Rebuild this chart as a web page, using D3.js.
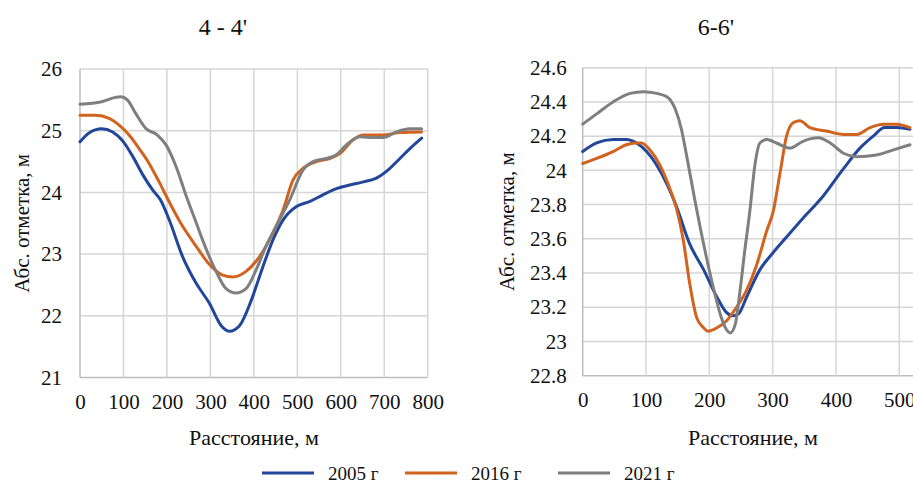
<!DOCTYPE html>
<html><head><meta charset="utf-8">
<script src="https://cdn.jsdelivr.net/npm/d3@7"></script>
<style>
html,body{margin:0;padding:0;background:#fff;}
svg{display:block;font-family:"Liberation Serif","Times New Roman",serif;}
</style></head>
<body>
<svg id="c" width="913" height="486"></svg>
<script>
// ---------- DATA ----------
const seriesNames = ["2005 г", "2016 г", "2021 г"];
const seriesColors = ["#22479a", "#d2631f", "#7f7f7f"];

// Profile 4 - 4'
const dist4_2005 = [0,20,50,75,100,120,145,167,185,205,236,267,298,325,344,367,394,421,444,467,498,528,559,590,621,652,682,705,736,759,786];
const elev4_2005 = [24.82,24.96,25.03,24.98,24.82,24.6,24.28,24.04,23.88,23.56,22.96,22.53,22.2,21.84,21.75,21.84,22.25,22.8,23.23,23.55,23.77,23.85,23.96,24.06,24.12,24.17,24.23,24.34,24.55,24.71,24.88];
const dist4_2016 = [0,36,67,90,113,136,159,182,205,232,267,298,328,352,382,413,444,467,490,513,544,575,598,628,652,698,736,786];
const elev4_2016 = [25.25,25.25,25.2,25.09,24.93,24.71,24.47,24.17,23.85,23.5,23.13,22.83,22.66,22.63,22.72,22.96,23.34,23.71,24.2,24.39,24.5,24.55,24.63,24.85,24.93,24.93,24.97,24.98];
const dist4_2021 = [0,50,82,94,109,128,151,178,198,221,244,271,282,313,336,359,382,405,428,455,482,513,536,567,590,613,644,675,698,728,759,786];
const elev4_2021 = [25.43,25.47,25.54,25.55,25.5,25.28,25.04,24.93,24.77,24.42,23.95,23.44,23.23,22.72,22.44,22.37,22.44,22.74,23.13,23.5,23.87,24.36,24.5,24.55,24.61,24.77,24.9,24.89,24.89,24.98,25.03,25.03];

// Profile 6-6'
const dist6_2005 = [0,22,48,69,85,101,117,133,148,169,191,212,227,238,246,259,280,301,322,348,380,412,438,459,477,496,517];
const elev6_2005 = [24.11,24.16,24.18,24.18,24.16,24.11,24.03,23.92,23.79,23.57,23.42,23.26,23.17,23.15,23.16,23.26,23.42,23.52,23.61,23.72,23.85,24.01,24.13,24.2,24.25,24.25,24.24];
const dist6_2016 = [0,22,48,69,83,93,106,122,138,148,159,169,180,191,198,212,227,243,259,275,291,301,312,322,333,343,359,385,412,433,454,475,496,517];
const elev6_2016 = [24.04,24.07,24.11,24.15,24.16,24.16,24.12,24.03,23.89,23.78,23.59,23.34,23.14,23.08,23.06,23.08,23.12,23.2,23.3,23.45,23.65,23.76,23.99,24.2,24.28,24.29,24.25,24.23,24.21,24.21,24.25,24.27,24.27,24.25];
const dist6_2021 = [0,22,48,75,96,117,133,146,156,164,177,191,206,219,227,233,241,248,256,264,272,280,291,306,327,348,372,391,412,433,464,491,517];
const elev6_2021 = [24.27,24.33,24.4,24.45,24.46,24.45,24.43,24.36,24.24,24.09,23.83,23.57,23.32,23.14,23.07,23.05,23.1,23.28,23.53,23.76,24.03,24.16,24.18,24.16,24.13,24.17,24.19,24.16,24.1,24.08,24.09,24.12,24.15];

const xTicks4 = [0,100,200,300,400,500,600,700,800];
const yTicks4 = [21,22,23,24,25,26];
const xTicks6 = [0,100,200,300,400,500,600];
const yTicks6 = [22.8,23,23.2,23.4,23.6,23.8,24,24.2,24.4,24.6];

const title4 = "4 - 4'";
const title6 = "6-6'";
const xTitle = "Расстояние, м";
const yTitle = "Абс. отметка, м";

// ---------- DRAW ----------
const svg = d3.select("#c");
const TXT = "#111";

function panel(cfg) {
  const x = d3.scaleLinear().domain(cfg.xDomain).range(cfg.xRange);
  const y = d3.scaleLinear().domain(cfg.yDomain).range(cfg.yRange);
  const g = svg.append("g");
  const [x0, x1] = cfg.xRange, [yb, yt] = cfg.yRange;

  // grid
  g.selectAll("line.hg").data(cfg.yTicks).join("line")
    .attr("x1", x0).attr("x2", x1)
    .attr("y1", d => y(d)).attr("y2", d => y(d))
    .attr("stroke", (d,i) => i === 0 ? "#bdbdbd" : "#d6d6d6").attr("stroke-width", 1.5);
  g.selectAll("line.vg").data(cfg.xTicks).join("line")
    .attr("x1", d => x(d)).attr("x2", d => x(d))
    .attr("y1", yb).attr("y2", yt)
    .attr("stroke", (d,i) => i === 0 ? "#bdbdbd" : "#d6d6d6").attr("stroke-width", 1.5);

  // axes (labels only)
  const ax = g.append("g").attr("transform", `translate(0,${yb})`)
    .call(d3.axisBottom(x).tickValues(cfg.xTicks).tickSize(0).tickPadding(cfg.xPad).tickFormat(d3.format("d")));
  const ay = g.append("g").attr("transform", `translate(${x0},0)`)
    .call(d3.axisLeft(y).tickValues(cfg.yTicks).tickSize(0).tickPadding(cfg.yPad).tickFormat(d => String(+d.toFixed(1))));
  [ax, ay].forEach(a => {
    a.select(".domain").remove();
    a.selectAll("text").attr("font-family", "Liberation Serif").attr("font-size", 21).attr("fill", TXT);
  });

  // lines
  const line = d3.line().x(d => x(d[0])).y(d => y(d[1])).curve(d3.curveMonotoneX);
  cfg.series.forEach((s, i) => {
    const pts = s.dist.map((d, k) => [d, s.elev[k]]);
    g.append("path").attr("d", line(pts)).attr("fill", "none")
      .attr("stroke", seriesColors[i]).attr("stroke-width", 3)
      .attr("stroke-linejoin", "round").attr("stroke-linecap", "round");
  });

  // titles
  g.append("text").attr("x", cfg.titleX).attr("y", 35).attr("text-anchor", "middle")
    .attr("font-size", 24).attr("fill", TXT).text(cfg.title);
  g.append("text").attr("x", cfg.xTitleX).attr("y", 445).attr("text-anchor", "middle")
    .attr("font-size", 22).attr("fill", TXT).text(xTitle);
  g.append("text").attr("transform", `translate(${cfg.yTitleX},${(yb+yt)/2}) rotate(-90)`)
    .attr("text-anchor", "middle").attr("dy", "0.35em")
    .attr("font-size", 21).attr("fill", TXT).text(yTitle);
}

panel({
  xDomain: [0, 800], xRange: [80, 427.7],
  yDomain: [21, 26], yRange: [377.5, 69],
  xTicks: xTicks4, yTicks: yTicks4, xPad: 17, yPad: 18,
  title: title4, titleX: 223, xTitleX: 254, yTitleX: 22,
  series: [
    {dist: dist4_2005, elev: elev4_2005},
    {dist: dist4_2016, elev: elev4_2016},
    {dist: dist4_2021, elev: elev4_2021}
  ]
});

panel({
  xDomain: [0, 600], xRange: [582.7, 962.5],
  yDomain: [22.8, 24.6], yRange: [375.7, 67.7],
  xTicks: xTicks6, yTicks: yTicks6, xPad: 16, yPad: 16,
  title: title6, titleX: 716, xTitleX: 753, yTitleX: 507,
  series: [
    {dist: dist6_2005, elev: elev6_2005},
    {dist: dist6_2016, elev: elev6_2016},
    {dist: dist6_2021, elev: elev6_2021}
  ]
});

// legend
const legX = [262, 405, 558];
const leg = svg.append("g");
seriesNames.forEach((n, i) => {
  leg.append("line").attr("x1", legX[i]).attr("x2", legX[i] + 52)
    .attr("y1", 473).attr("y2", 473).attr("stroke", seriesColors[i]).attr("stroke-width", 3);
  leg.append("text").attr("x", legX[i] + 66).attr("y", 473).attr("dy", "0.35em")
    .attr("font-size", 19).attr("fill", TXT).text(n);
});
</script>
</body></html>
